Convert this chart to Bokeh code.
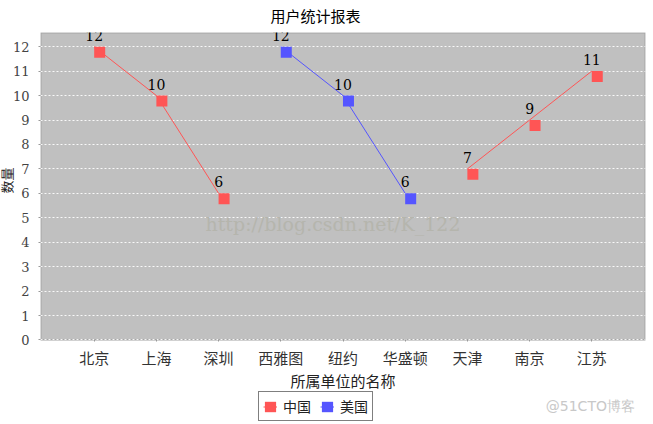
import math
from bokeh.plotting import figure
from bokeh.models import (ColumnDataSource, FactorRange, Range1d, FixedTicker,
                          LabelSet, Legend, LegendItem, Label, BoxAnnotation, Title)
from bokeh.transform import dodge
from bokeh.core.properties import value
from bokeh.embed import file_html
from bokeh.resources import INLINE

# ---- data ----
categories = ["北京", "上海", "深圳", "西雅图", "纽约", "华盛顿", "天津", "南京", "江苏"]
china = [12, 10, 6, None, None, None, 7, 9, 11]
usa = [None, None, None, 12, 10, 6, None, None, None]
series_names = ["中国", "美国"]
series_values = [china, usa]
series_colors = ["#FF5555", "#5555FF"]
y_ticks = list(range(0, 13))
title_text = "用户统计报表"
x_label = "所属单位的名称"
y_label = "数量"
watermark_1 = "http://blog.csdn.net/K_122"
watermark_2 = "@51CTO博客"

CJK = "Noto Sans CJK SC"
SERIF = "DejaVu Serif"

# frame spans from the plot top down to the canvas bottom; the grey plot
# area is a box from value 0 upward
p = figure(width=653, height=424,
           x_range=FactorRange(factors=categories, range_padding=0.3635,
                               range_padding_units="absolute"),
           y_range=Range1d(-3.457, 12.58),
           output_backend="svg", toolbar_location=None,
           min_border_left=38, min_border_right=8,
           min_border_top=31, min_border_bottom=0)

p.background_fill_color = "white"
p.border_fill_color = "white"
p.outline_line_color = None

plot_area = BoxAnnotation(bottom=0, fill_color="#C0C0C0", fill_alpha=1,
                          line_color="#666666", line_width=2, level="image")
p.add_layout(plot_area)

p.title.text = title_text
p.title.align = "left"
p.title.offset = 230
p.title.standoff = 9
p.title.vertical_align = "top"
p.title.text_font = CJK
p.title.text_font_size = "15px"
p.title.text_font_style = "normal"
p.title.text_color = "black"

p.xgrid.grid_line_color = None
p.ygrid.grid_line_color = "white"
p.ygrid.grid_line_dash = "2 2"
p.ygrid.grid_line_alpha = 0.9
p.ygrid.bounds = (1, 12)

p.yaxis.ticker = FixedTicker(ticks=y_ticks)
p.yaxis.minor_tick_line_color = None
p.yaxis.major_tick_in = 0
p.yaxis.major_tick_out = 2
p.yaxis.major_label_standoff = 9
p.yaxis.major_label_text_font = SERIF
p.yaxis.major_label_text_font_size = "13px"
p.yaxis.major_label_text_color = "#444444"
p.yaxis.axis_line_color = None
p.yaxis.major_tick_line_color = "#999999"

ytitle = Title(text=y_label, align="left", offset=231, standoff=-12,
               vertical_align="bottom", text_font=CJK, text_font_size="13px",
               text_font_style="normal", text_color="#222222")
p.add_layout(ytitle, "left")

p.xaxis.fixed_location = 0
p.xaxis.axis_line_color = None
p.xaxis.major_tick_in = 0
p.xaxis.major_tick_out = 2
p.xaxis.major_tick_line_color = "#999999"
p.xaxis.major_label_standoff = 5
p.xaxis.major_label_text_font = CJK
p.xaxis.major_label_text_font_size = "15px"
p.xaxis.major_label_text_color = "#333333"
p.xaxis.axis_label = x_label
p.xaxis.axis_label_text_font = CJK
p.xaxis.axis_label_text_font_size = "15px"
p.xaxis.axis_label_text_font_style = "normal"
p.xaxis.axis_label_text_color = "#222222"
p.xaxis.axis_label_standoff = -1

items = []
for name, vals, color in zip(series_names, series_values, series_colors):
    ys = [float("nan") if v is None else v for v in vals]
    line_src = ColumnDataSource(dict(x=categories, y=ys))
    lr = p.line("x", "y", source=line_src, line_color=color, line_width=1)
    px = [c for c, v in zip(categories, vals) if v is not None]
    py = [v for v in vals if v is not None]
    pt_src = ColumnDataSource(dict(x=px, y=py, t=[str(v) for v in py]))
    p.scatter(x=dodge("x", 0.088, range=p.x_range), y=dodge("y", -0.224),
              source=pt_src, marker="square", size=11,
              fill_color=color, line_color=color, line_width=0)
    labels = LabelSet(x="x", y="y", text="t", source=pt_src, y_offset=6,
                      text_align="center", text_baseline="alphabetic",
                      text_font=value(SERIF), text_font_size="14px",
                      text_color="black")
    p.add_layout(labels)
    # legend-only swatch: an area glyph whose single row is not drawable
    swatch = p.quad(left=[math.nan], right=[math.nan], top=[math.nan],
                    bottom=[math.nan], fill_color=color, line_color=None)
    items.append(LegendItem(label=name, renderers=[lr, swatch]))

legend = Legend(items=items, orientation="horizontal", location=(218, 3))
legend.border_line_color = "black"
legend.border_line_width = 1.5
legend.background_fill_color = "white"
legend.background_fill_alpha = 1
legend.padding = 4
legend.margin = 0
legend.spacing = 9
legend.glyph_width = 14
legend.glyph_height = 13
legend.label_standoff = 6
legend.label_height = 14
legend.label_text_line_height = 1.0
legend.label_text_font = CJK
legend.label_text_font_size = "14px"
legend.label_text_color = "#222222"
p.add_layout(legend)

# watermarks (synthetic categorical coordinate = index + 0.5)
wm1 = Label(x=categories.index("纽约") + 0.5, y=4.75, x_offset=-10, text=watermark_1,
            text_align="center", text_baseline="middle",
            text_font=SERIF, text_font_size="19px", text_color="#B5B5AD")
p.add_layout(wm1)
wm2 = Label(x=categories.index("江苏") + 0.5, y=0, x_offset=-46, y_offset=-66,
            text=watermark_2, text_align="left", text_baseline="alphabetic",
            text_font="DejaVu Sans", text_font_size="14px", text_color="#C8C8C8")
p.add_layout(wm2)

open("out.html", "w").write(file_html(p, INLINE))
